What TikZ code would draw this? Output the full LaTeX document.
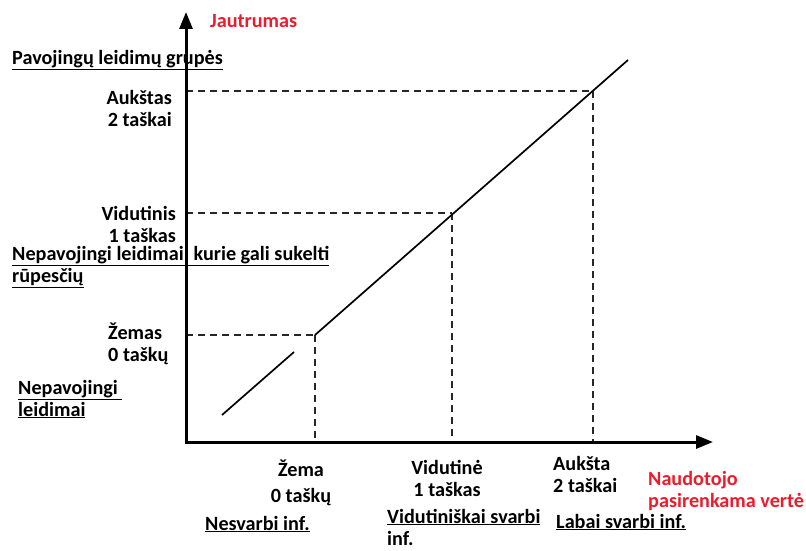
\documentclass[tikz,border=0pt]{standalone}
\usepackage{fontspec}
\setmainfont{Carlito}
\usetikzlibrary{arrows.meta}
\definecolor{labelred}{RGB}{236,28,44}

\begin{document}
\begin{tikzpicture}[x=1pt,y=-1pt,>={Triangle[width=13pt,length=17pt]},
  lbl/.style={font=\fontsize{20.2}{22}\selectfont\bfseries,inner sep=0pt,align=right},
  group/.style={lbl,align=left},
  redlbl/.style={lbl,align=left,text=labelred},
  axis/.style={line width=3pt},
  guide/.style={line width=1.3pt,dash pattern=on 7pt off 5pt,black!85},
  curve/.style={line width=1.7pt}]
\useasboundingbox (0,0) rectangle (806,551);
% axes and points on the curve
\coordinate (O) at (186,442);
\coordinate (ytop) at (186,12);
\coordinate (xend) at (713,442);
\coordinate (start) at (222,415);
\coordinate (gap) at (294,352);
\coordinate (low) at (315,335);
\coordinate (mid) at (452,213);
\coordinate (high) at (593,91);
\coordinate (stop) at (628,60);
\coordinate (lowx) at (315,442);
\coordinate (midx) at (452,442);
\coordinate (highx) at (593,442);
\coordinate (lowy) at (186,335);
\coordinate (midy) at (186,213);
\coordinate (highy) at (186,91);
% labels on the vertical axis
\node[redlbl,anchor=west] (ylabel) at (210,21) {Jautrumas};
\node[group,anchor=west] (gdanger) at (12,60) {\underline{Pavojingų leidimų grupės}};
\node[lbl,anchor=east] (yhigh) at (172,108) {Aukštas\\2 taškai};
\node[lbl,anchor=east] (ymid) at (176,224) {Vidutinis\\1 taškas};
\node[group,anchor=west] (gworry) at (12,267) {\underline{Nepavojingi leidimai, kurie gali sukelti}\\\underline{rūpesčių}};
\node[group,anchor=west] (ylow) at (108,344) {Žemas\\0 taškų};
\node[group,anchor=west] (gsafe) at (18,399) {\underline{Nepavojingi }\\\underline{leidimai}};
% labels on the horizontal axis
\node[lbl] (xlow) at (301,468) {Žema};
\node[lbl] (xlowpts) at (301,497) {0 taškų};
\node[group,anchor=west] (ilow) at (205,524) {\underline{Nesvarbi inf.}};
\node[lbl,align=center] (xmid) at (447,478) {Vidutinė\\1 taškas};
\node[group,anchor=west] (imid) at (387,527) {\underline{Vidutiniškai svarbi}\\inf.};
\node[group,anchor=west] (xhigh) at (553,474) {Aukšta\\2 taškai};
\node[group,anchor=west] (ihigh) at (556,522) {\underline{Labai svarbi inf.}};
\node[redlbl,anchor=west] (xlabel) at (648,491) {Naudotojo\\pasirenkama vertė};
% guides
\foreach \a/\b in {lowy/low,midy/mid,highy/high,low/lowx,mid/midx,high/highx}{\draw[guide] (\a)--(\b);}
\draw[curve] (start)--(gap);
\draw[curve] (low)--(stop);
\draw[axis,->] (O)--(ytop);
\draw[axis,->] ([xshift=-1.5pt]O)--(xend);
\end{tikzpicture}
\end{document}
